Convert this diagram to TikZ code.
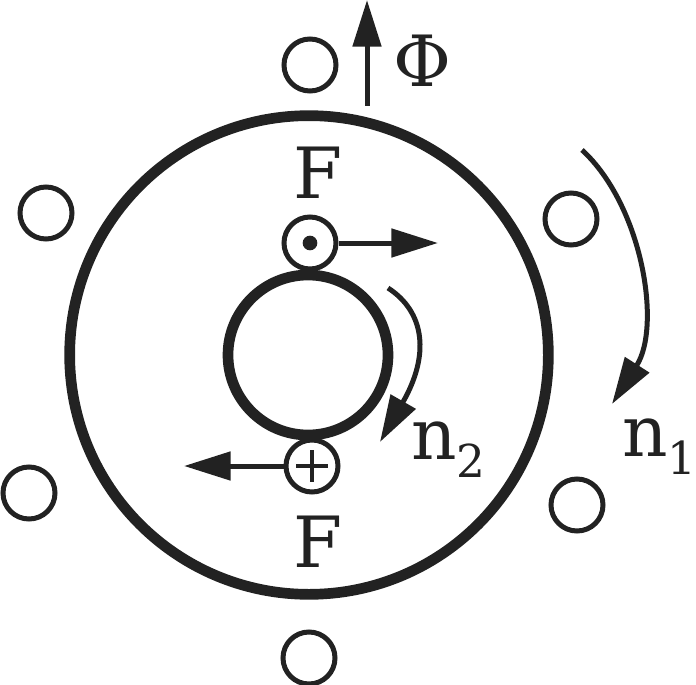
\documentclass[tikz,border=0pt]{standalone}
\usepackage{fontspec}
\setmainfont{DejaVu Serif}
\usetikzlibrary{arrows.meta, positioning, calc}
\definecolor{ink}{RGB}{34, 34, 34}
\newcommand{\subnum}[1]{\raisebox{-14pt}{\fontsize{34pt}{34pt}\selectfont #1}}
\begin{document}
\begin{tikzpicture}[
    x=0.75pt, y=-0.75pt, color=ink,
    pole/.style={draw, circle, line width=3.75pt, minimum size=39pt, inner sep=0pt},
    wire/.style={draw, circle, line width=3.75pt, fill=white, minimum size=39pt, inner sep=0pt},
    ring/.style={draw, circle, line width=8pt, inner sep=0pt},
    arrow/.style={line width=3.75pt, -{Triangle[length=35pt, width=21pt]}},
    label/.style={font=\fontsize{53pt}{53pt}\selectfont, inner sep=0pt, text=ink}
]
    \useasboundingbox (0, 0) rectangle (696, 685);

    \node[ring, minimum size=359pt] (stator) at (309, 355) {};
    \node[ring, minimum size=120pt] (rotor) at (308, 355) {};

    % stator poles
    \node[pole] (p1) at (310, 65) {};
    \node[pole] (p2) at (46, 213) {};
    \node[pole] (p3) at (571, 219) {};
    \node[pole] (p4) at (29, 493) {};
    \node[pole] (p5) at (577, 505) {};
    \node[pole] (p6) at (309, 658) {};

    % conductors
    \node[wire] (top) at (310, 243) {};
    \node[circle, fill, minimum size=11pt, inner sep=0pt] (dot) at (top) {};
    \node[wire] (bot) at (312, 466) {};
    \draw[line width=3.4pt] ($(bot)+(-16, 0)$) -- ($(bot)+(16, 0)$);
    \draw[line width=3.4pt] ($(bot)+(0, -16)$) -- ($(bot)+(0, 16)$);

    \coordinate (fr) at (438, 243);
    \coordinate (fl) at (184, 466);
    \draw[arrow] (top) -- (fr);
    \draw[arrow] (bot) -- (fl);

    % flux
    \coordinate (phia) at (367, 106);
    \coordinate (phib) at (367, 0);
    \draw[arrow] (phia) -- (phib);
    \node[label, anchor=base] (phi) at (422, 87) {Φ};

    \node[label, anchor=base] (f1) at (318, 198) {F};
    \node[label, anchor=base] (f2) at (318, 567) {F};

    % speeds
    \coordinate (n1a) at (582, 150);
    \coordinate (n1b) at (612, 404);
    \draw[arrow] (n1a) .. controls (642, 205) and (662, 326) .. (n1b);
    \coordinate (n2a) at (388, 288);
    \coordinate (n2b) at (380, 442);
    \draw[arrow] (n2a) .. controls (425, 312) and (430, 355) .. (n2b);

    \node[label, anchor=base west] (n1) at (622, 456) {n\subnum{1}};
    \node[label, anchor=base west] (n2) at (411, 459) {n\subnum{2}};
\end{tikzpicture}
\end{document}
